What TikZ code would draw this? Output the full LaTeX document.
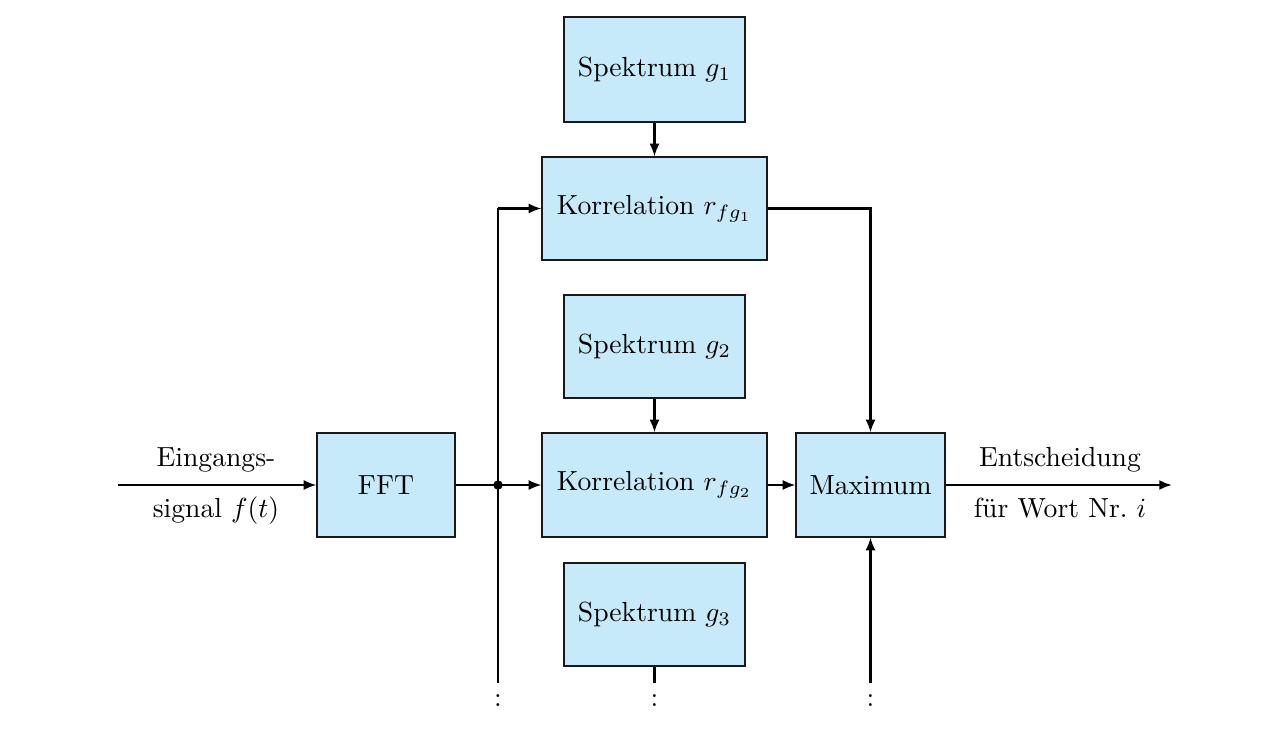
\documentclass[tikz,border=0pt]{standalone}
\usetikzlibrary{arrows.meta}
\definecolor{boxblue}{RGB}{199,234,250}
\begin{document}
\begin{tikzpicture}[x=0.362pt,y=-0.362pt,
  blk/.style={draw=black!90,fill=boxblue,line width=0.4pt,inner sep=0pt},
  conn/.style={line width=0.75pt},
  arr/.style={conn,-{Latex[length=4.6pt,width=3.6pt]}},
  lbl/.style={inner sep=0pt}]
\useasboundingbox (0,0) rectangle (1265,745);
\node[blk,minimum width=181*0.362pt,minimum height=105*0.362pt] (s1) at (654.5,69.5) {Spektrum $g_1$};
\node[blk,minimum width=225*0.362pt,minimum height=103*0.362pt] (k1) at (654.5,208.5) {Korrelation $r_{fg_1}$};
\node[blk,minimum width=181*0.362pt,minimum height=103*0.362pt] (s2) at (654.5,346.5) {Spektrum $g_2$};
\node[blk,minimum width=225*0.362pt,minimum height=104*0.362pt] (k2) at (654.5,485) {Korrelation $r_{fg_2}$};
\node[blk,minimum width=181*0.362pt,minimum height=103*0.362pt] (s3) at (654.5,614.5) {Spektrum $g_3$};
\node[blk,minimum width=138*0.362pt,minimum height=104*0.362pt] (fft) at (386,485) {FFT};
\node[blk,minimum width=149*0.362pt,minimum height=104*0.362pt] (max) at (870.5,485) {Maximum};
\coordinate (in) at (118,485);
\coordinate (out) at (1172,485);
\coordinate (j) at (498,485);
\coordinate (jtop) at (498,208.5);
\coordinate (jbot) at (498,683);
\coordinate (sbot) at (654.5,683);
\coordinate (mbot) at (870.5,683);
\coordinate (kc) at (870.5,208.5);
\node[lbl] (ein1) at (216,460) {Eingangs-};
\node[lbl] (ein2) at (216,511) {signal $f(t)$};
\node[lbl] (ent1) at (1060,460) {Entscheidung};
\node[lbl] (ent2) at (1060,508) {für Wort Nr.\ $i$};
\node[lbl] (d1) at (498,701) {:};
\node[lbl] (d2) at (654.5,701) {:};
\node[lbl] (d3) at (870.5,701) {:};
\draw[arr] (in) -- (fft);
\draw[conn] (fft) -- (j);
\draw[arr] (j) -- (k2);
\fill (j) circle (1.7pt);
\draw[conn] (jbot) -- (jtop);
\draw[arr] (jtop) -- (k1.west);
\draw[arr] (s1) -- (k1);
\draw[arr] (s2) -- (k2);
\draw[conn] (s3.south) -- (sbot);
\draw[arr] (k1.east) -- (kc) -- (max.north);
\draw[arr] (k2) -- (max);
\draw[arr] (mbot) -- (max.south);
\draw[arr] (max) -- (out);
\end{tikzpicture}
\end{document}
